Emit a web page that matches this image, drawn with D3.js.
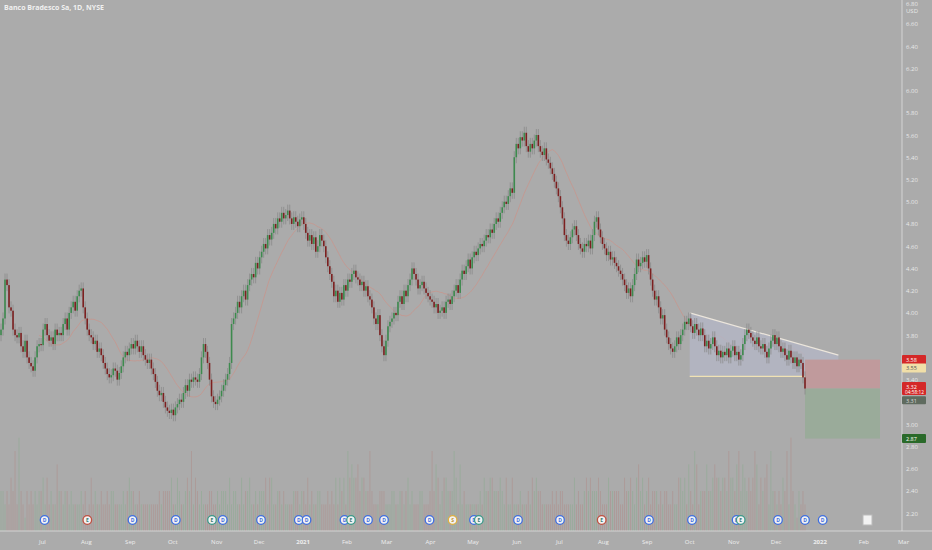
<!DOCTYPE html>
<html><head><meta charset="utf-8">
<script src="https://cdn.jsdelivr.net/npm/d3@7"></script>
<style>body{margin:0;background:#ababab;}svg{display:block;font-family:"Open Sans",sans-serif;}</style>
</head><body><svg id="c" width="932" height="550"></svg>
<script>
const title = "Banco Bradesco Sa, 1D, NYSE";
const closes = [3.85,3.95,4.30,4.25,4.05,4.02,3.85,3.80,3.78,3.82,3.70,3.65,3.75,3.60,3.55,3.52,3.48,3.60,3.70,3.72,
3.71,3.85,3.90,3.80,3.75,3.78,3.72,3.85,3.80,3.82,3.80,3.90,3.95,3.85,4.00,4.05,4.10,4.02,4.15,4.20,
4.22,4.05,3.95,3.85,3.80,3.78,3.72,3.75,3.65,3.68,3.62,3.55,3.50,3.45,3.42,3.44,3.50,3.48,3.40,3.46,
3.52,3.60,3.65,3.62,3.68,3.72,3.68,3.75,3.70,3.65,3.70,3.62,3.58,3.55,3.58,3.50,3.45,3.38,3.30,3.26,
3.28,3.20,3.15,3.12,3.10,3.13,3.08,3.15,3.18,3.22,3.20,3.28,3.35,3.30,3.40,3.38,3.42,3.40,3.38,3.45,
3.60,3.72,3.65,3.55,3.40,3.25,3.20,3.18,3.22,3.25,3.30,3.35,3.40,3.45,3.55,3.90,3.95,4.00,4.10,4.05,
4.15,4.20,4.12,4.25,4.30,4.35,4.32,4.45,4.40,4.50,4.55,4.62,4.58,4.70,4.66,4.72,4.80,4.76,4.85,4.82,
4.90,4.85,4.88,4.92,4.85,4.80,4.86,4.82,4.78,4.84,4.86,4.80,4.72,4.65,4.70,4.62,4.68,4.55,4.60,4.70,
4.65,4.60,4.50,4.42,4.35,4.28,4.15,4.20,4.10,4.18,4.12,4.25,4.20,4.30,4.28,4.35,4.38,4.32,4.30,4.25,
4.28,4.20,4.24,4.15,4.12,4.05,3.95,3.90,3.98,3.80,3.70,3.62,3.75,3.88,3.92,3.95,4.00,3.98,4.10,4.15,
4.08,4.20,4.15,4.25,4.30,4.40,4.35,4.30,4.22,4.25,4.28,4.22,4.18,4.15,4.12,4.10,4.05,4.08,4.00,4.02,
4.05,4.00,4.10,4.12,4.08,4.15,4.20,4.25,4.18,4.30,4.38,4.35,4.42,4.48,4.40,4.50,4.55,4.52,4.58,4.62,
4.60,4.65,4.70,4.68,4.75,4.72,4.80,4.85,4.82,4.90,4.95,5.00,4.98,5.05,5.12,5.08,5.40,5.52,5.48,5.58,
5.55,5.62,5.50,5.45,5.52,5.48,5.55,5.60,5.50,5.45,5.42,5.48,5.38,5.35,5.30,5.25,5.18,5.12,5.05,4.95,
4.85,4.70,4.65,4.62,4.68,4.75,4.78,4.70,4.62,4.58,4.55,4.62,4.60,4.65,4.58,4.70,4.82,4.86,4.75,4.68,
4.62,4.58,4.52,4.55,4.48,4.50,4.45,4.42,4.38,4.35,4.30,4.25,4.18,4.22,4.15,4.25,4.35,4.48,4.42,4.45,
4.50,4.46,4.52,4.40,4.30,4.20,4.12,4.15,4.05,3.95,3.98,3.85,3.78,3.72,3.68,3.65,3.70,3.78,3.72,3.80,
3.85,3.92,3.90,3.95,3.88,3.82,3.90,3.85,3.80,3.86,3.80,3.70,3.75,3.68,3.72,3.78,3.70,3.62,3.66,3.60,
3.65,3.62,3.68,3.60,3.66,3.70,3.62,3.65,3.58,3.62,3.72,3.80,3.85,3.82,3.78,3.75,3.72,3.78,3.70,3.68,
3.72,3.65,3.60,3.68,3.75,3.80,3.72,3.78,3.70,3.65,3.68,3.62,3.58,3.66,3.60,3.55,3.60,3.52,3.58,3.55,
3.42,3.32];
const volumes = "3323243627321323232334242322533233232222323124232232232332222323433223222222222323333422432234362432322233223233324233224233422323334244223323222233323324232233222323242434264544534433632223332223322332342322233222363542344333642523222222232433443334324224222322232434332222232323322222423223434333432224333332243343245342342333232332232244342532652333533454434436443563543434652434526";
const ticks = [6.8,6.6,6.4,6.2,6.0,5.8,5.6,5.4,5.2,5.0,4.8,4.6,4.4,4.2,4.0,3.8,3.4,3.0,2.8,2.6,2.4,2.2];
const months = [["2020-07-01","Jul"],["2020-08-01","Aug"],["2020-09-01","Sep"],["2020-10-01","Oct"],["2020-11-01","Nov"],["2020-12-01","Dec"],["2021-01-01","2021"],["2021-02-01","Feb"],["2021-03-01","Mar"],["2021-04-01","Apr"],["2021-05-01","May"],["2021-06-01","Jun"],["2021-07-01","Jul"],["2021-08-01","Aug"],["2021-09-01","Sep"],["2021-10-01","Oct"],["2021-11-01","Nov"],["2021-12-01","Dec"],["2022-01-01","2022"],["2022-02-01","Feb"],["2022-03-01","Mar"]];
const events = [[44.6,"D"],[87.3,"E"],[132.5,"D"],[175.8,"D"],[212,"E"],[222.8,"D"],[261,"D"],[298.8,"D"],[306.5,"D"],[344.5,"D"],[351,"E"],[368,"D"],[384,"D"],[429.5,"D"],[452.6,"S"],[474,"D"],[478.8,"E"],[518,"D"],[560,"D"],[601.7,"E"],[649,"D"],[692,"D"],[736.6,"D"],[740.7,"E"],[778,"D"],[805,"D"],[822.7,"D"]];
const pattern = {x0:"2021-10-01", x1:"2022-01-14", top0:4.00, top1:3.62, base:3.43};
const position = {entry:3.32, stop:3.58, target:2.87};

const svg = d3.select("#c");
const y = d3.scaleLinear().domain([2.0,5.6]).range([535.3,135]);
const xt = d3.scaleTime().domain([new Date("2020-06-01"),new Date("2022-01-01")]).range([0,820]);
const xb = d3.scaleLinear().domain([0,closes.length-1]).range([1,805]);
const vh = d3.scaleLinear().domain([0,9]).range([0,120]);
const data = closes.map((c,i)=>{const o=i?closes[i-1]:3.80;return {i,o,c,v:+volumes[i%volumes.length]};});

svg.append("g").selectAll("rect").data(data).join("rect")
 .attr("x",d=>xb(d.i)-0.5).attr("width",1).attr("y",d=>531-vh(d.v)).attr("height",d=>vh(d.v))
 .attr("fill",d=>d.c>=d.o?"#9aab9c":"#ad9b99");

const ma = data.map((d,i)=>i<19?null:{i,v:d3.mean(closes.slice(i-19,i+1))}).filter(Boolean);
svg.append("path").datum(ma).attr("fill","none").attr("stroke","#c8968d").attr("stroke-width",0.8)
 .attr("d",d3.line().x(d=>xb(d.i)).y(d=>y(d.v)));

const px0=xt(new Date(pattern.x0)), px1=xt(new Date(pattern.x1));
svg.append("path").attr("d",`M${px0},${y(pattern.top0)}L${px1},${y(pattern.top1)}L${px1},${y(pattern.base)}L${px0},${y(pattern.base)}Z`)
 .attr("fill","#b4b7c6").attr("opacity",0.8);
svg.append("line").attr("x1",px0).attr("x2",px1).attr("y1",y(pattern.top0)).attr("y2",y(pattern.top1)).attr("stroke","#ece6dc").attr("stroke-width",1.2);
svg.append("line").attr("x1",px0).attr("x2",px1).attr("y1",y(pattern.base)).attr("y2",y(pattern.base)).attr("stroke","#f0e2b4").attr("stroke-width",1.2);

const bx0=805,bx1=880;
svg.append("rect").attr("x",bx0).attr("width",bx1-bx0).attr("y",y(position.stop)).attr("height",y(position.entry)-y(position.stop)).attr("fill","#c09a9c");
svg.append("rect").attr("x",bx0).attr("width",bx1-bx0).attr("y",y(position.entry)).attr("height",y(position.target)-y(position.entry)).attr("fill","#9aab9a");

const cg = svg.append("g");
cg.selectAll("line").data(data).join("line")
 .attr("x1",d=>xb(d.i)).attr("x2",d=>xb(d.i))
 .attr("y1",d=>y(Math.max(d.o,d.c))-6).attr("y2",d=>y(Math.min(d.o,d.c))+6)
 .attr("stroke","#8a8a8a").attr("stroke-width",0.8);
cg.selectAll("rect").data(data).join("rect")
 .attr("x",d=>xb(d.i)-0.8).attr("width",1.6)
 .attr("y",d=>y(Math.max(d.o,d.c))).attr("height",d=>Math.max(1,Math.abs(y(d.o)-y(d.c))))
 .attr("fill",d=>d.c>=d.o?"#3d8a4e":"#7c2020");

svg.append("line").attr("x1",902).attr("x2",902).attr("y1",0).attr("y2",531).attr("stroke","#e0e0e0").attr("stroke-width",0.8);
svg.append("g").selectAll("text").data(ticks).join("text").attr("x",906).attr("y",d=>Math.max(6,y(d)+2.5))
 .attr("font-size",6).attr("fill","#e8e8e8").text(d=>d.toFixed(2));
svg.append("text").attr("x",906).attr("y",13).attr("font-size",6).attr("fill","#e8e8e8").text("USD");

svg.append("line").attr("x1",0).attr("x2",932).attr("y1",531).attr("y2",531).attr("stroke","#e0e0e0").attr("stroke-width",0.8);
svg.append("g").selectAll("text").data(months).join("text").attr("x",d=>xt(new Date(d[0]))).attr("y",544)
 .attr("text-anchor","middle").attr("font-size",6).attr("font-weight",d=>d[1].length==4?"bold":"normal")
 .attr("fill","#eeeeee").text(d=>d[1]);

const eg = svg.append("g").selectAll("g").data(events).join("g").attr("transform",d=>`translate(${d[0]},520)`);
eg.append("circle").attr("r",4.3).attr("fill","#f2f2f2").attr("stroke",d=>d[1]=="D"?"#3f6fe0":d[1]=="S"?"#e0b040":(d[0]>80&&d[0]<95||d[0]>595&&d[0]<610)?"#c05040":"#3a9a8a").attr("stroke-width",1.3);
eg.append("text").attr("y",2).attr("text-anchor","middle").attr("font-size",5).attr("font-weight","bold")
 .attr("fill",d=>d[1]=="D"?"#3f6fe0":d[1]=="S"?"#c09030":"#3a7a70").text(d=>d[1]);
svg.append("rect").attr("x",863).attr("y",515).attr("width",9).attr("height",10).attr("fill","#f2f2f2").attr("stroke","#bbb");

const labels=[[3.58,"3.58","#d42828","#fff",0,9],[3.55,"3.55","#f1dfa8","#555",5,9],[3.32,"3.32","#d42828","#fff",-2,13],[3.31,"3.31","#5f6b5f","#ddd",11,8],[2.87,"2.87","#2a6a2a","#fff",0,9]];
labels.forEach(l=>{
  const yy=y(l[0])+l[4];
  svg.append("rect").attr("x",902).attr("y",yy-4.5).attr("width",24).attr("height",l[5]).attr("fill",l[2]).attr("rx",1);
  svg.append("text").attr("x",906).attr("y",yy+2).attr("font-size",5.5).attr("fill",l[3]).text(l[1]);
  if(l[1]=="3.32") svg.append("text").attr("x",905).attr("y",yy+7.5).attr("font-size",4.8).attr("fill","#fff").text("04:58:12");
});

svg.append("text").attr("x",4).attr("y",10).attr("font-size",7).attr("font-weight","bold").attr("fill","#f0f0f0").text(title);
</script></body></html>
